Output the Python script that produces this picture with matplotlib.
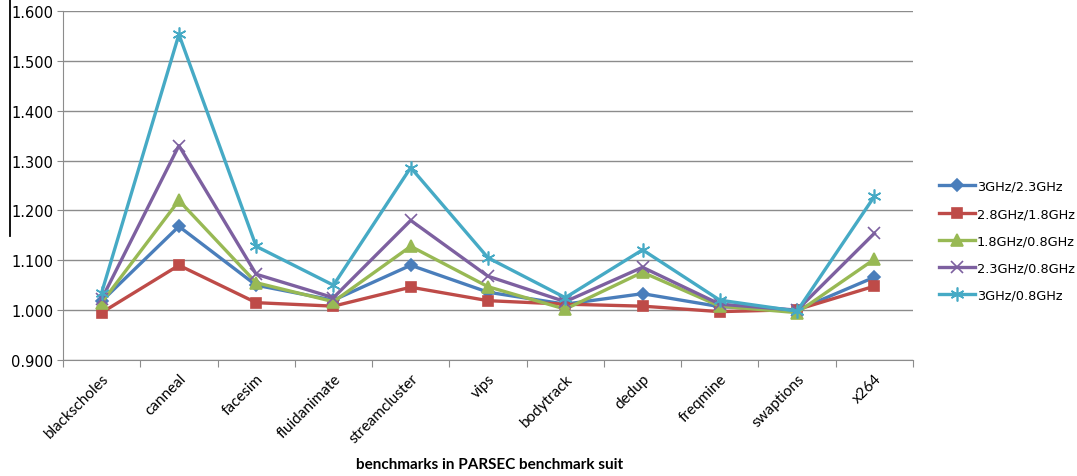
import matplotlib.pyplot as plt
from matplotlib.lines import Line2D

benchmarks = ['blackscholes', 'canneal', 'facesim', 'fluidanimate', 'streamcluster',
              'vips', 'bodytrack', 'dedup', 'freqmine', 'swaptions', 'x264']

f3_23 = [1.018, 1.168, 1.050, 1.020, 1.090, 1.036, 1.012, 1.033, 1.007, 1.000, 1.066]
f28_18 = [0.995, 1.090, 1.015, 1.008, 1.046, 1.019, 1.012, 1.008, 0.997, 1.001, 1.048]
f18_08 = [1.015, 1.220, 1.055, 1.017, 1.128, 1.047, 1.002, 1.076, 1.008, 0.995, 1.102]
f23_08 = [1.022, 1.330, 1.072, 1.025, 1.180, 1.068, 1.017, 1.086, 1.012, 1.000, 1.154]
f3_08 = [1.035, 1.553, 1.128, 1.050, 1.286, 1.105, 1.025, 1.121, 1.020, 0.998, 1.228]

series = [
  ('3GHz/2.3GHz', f3_23, '#4A7EBB', 'D', 6),
  ('2.8GHz/1.8GHz', f28_18, '#BE4B48', 's', 7.5),
  ('1.8GHz/0.8GHz', f18_08, '#98B954', '^', 8),
  ('2.3GHz/0.8GHz', f23_08, '#7D60A0', 'x', 8),
  ('3GHz/0.8GHz', f3_08, '#46AAC5', (6, 2, 0), 10),
]

fig = plt.figure(figsize=(10.77, 4.77), dpi=100)
ax = fig.add_axes([0.0585, 0.2432, 0.7892, 0.7316])

x = list(range(len(benchmarks)))
for name, vals, col, mk, ms in series:
  ax.plot(x, vals, color=col, lw=2.4, marker=mk, markersize=ms,
          markeredgecolor=col, markeredgewidth=1.2, label=name)

ax.set_xlim(-0.5, len(benchmarks) - 0.5)
ax.set_ylim(0.9, 1.6)
ax.set_yticks([0.9 + 0.1 * i for i in range(8)])
ax.set_yticklabels(['%.3f' % (0.9 + 0.1 * i) for i in range(8)],
                   fontsize=10.5, family='DejaVu Sans')
ax.yaxis.grid(True, color='#8c8c8c', lw=1.0)
ax.set_axisbelow(True)

# category ticks sit between the benchmarks
ax.set_xticks([i - 0.5 for i in range(len(benchmarks) + 1)])
ax.set_xticklabels([])
ax.set_xticks(x, minor=True)
ax.set_xticklabels(benchmarks, minor=True, rotation=45, ha='right',
                   rotation_mode='anchor', fontsize=11, family='Lato')
ax.tick_params(axis='x', which='minor', length=0, pad=8)
ax.tick_params(axis='x', which='major', length=5, color='#8c8c8c')
ax.tick_params(axis='y', length=4, color='#8c8c8c', pad=3)

for s in ['top', 'right']:
  ax.spines[s].set_visible(False)
for s in ['left', 'bottom']:
  ax.spines[s].set_color('#8c8c8c')

# axis title placed in figure coords so it stays inside the canvas
fig.text(0.455, 0.026, 'benchmarks in PARSEC benchmark suit', fontsize=11,
         family='Lato', fontweight='bold', ha='center', va='center')

ax.legend(loc='center left', bbox_to_anchor=(0.866, 0.493),
          bbox_transform=fig.transFigure, frameon=False, fontsize=9.3,
          handlelength=2.8, handletextpad=0.1, labelspacing=1.1, borderpad=0)

# stray dark rule along the left edge
fig.add_artist(Line2D([0.0093, 0.0093], [1.0, 0.503], color='black', lw=1.3))

fig.savefig('out.png', dpi=100)
